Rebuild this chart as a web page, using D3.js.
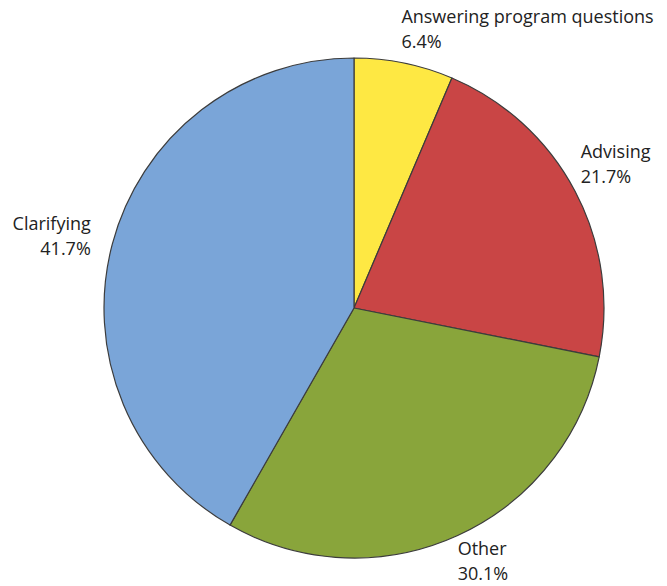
<!DOCTYPE html>
<html>
<head>
<meta charset="utf-8">
<script src="https://cdn.jsdelivr.net/npm/d3@7"></script>
<style>
  html, body { margin: 0; padding: 0; background: #fff; }
  svg text { font-family: "Open Sans", "Noto Sans", sans-serif; fill: #222; }
</style>
</head>
<body>
<svg id="chart" width="667" height="586"></svg>
<script>
// Share of activities, drawn clockwise from 12 o'clock
const categories = ["Answering program questions", "Advising", "Other", "Clarifying"];
const percents = [6.4, 21.7, 30.1, 41.7];
const colors = ["#fee843", "#c94545", "#89a53b", "#7aa5d8"];

const width = 667, height = 586;
const cx = 354, cy = 308, radius = 250;
const fontSize = 18, lineH = 25;

const svg = d3.select("#chart");
const g = svg.append("g").attr("transform", `translate(${cx},${cy})`);

const data = categories.map((c, i) => ({ name: c, value: percents[i], color: colors[i] }));

const pie = d3.pie().value(d => d.value).sort(null);
const arcs = pie(data);
const arc = d3.arc().innerRadius(0).outerRadius(radius);
const labelArc = d3.arc().innerRadius(radius + 12).outerRadius(radius + 12);

g.selectAll("path.slice")
  .data(arcs)
  .enter().append("path")
  .attr("class", "slice")
  .attr("d", arc)
  .attr("fill", d => d.data.color)
  .attr("stroke", "#3c3c3c")
  .attr("stroke-width", 1.2)
  .attr("stroke-linejoin", "round");

// Labels: name on the first line, percentage on the second.
// Upper labels sit above their anchor, lower ones below, side ones centred on it.
g.selectAll("text.label")
  .data(arcs)
  .enter().append("text")
  .attr("class", "label")
  .style("font-size", fontSize + "px")
  .each(function(d) {
    const [x, y] = labelArc.centroid(d);
    const mid = (d.startAngle + d.endAngle) / 2;
    const c = Math.cos(mid);
    const right = Math.sin(mid) >= 0;
    const base = c > 0.35 ? y - 28 : (c < -0.35 ? y + 9 : y - 11);
    const tx = right ? x - 5 : x - 10;
    const t = d3.select(this).attr("text-anchor", right ? "start" : "end");
    t.append("tspan").attr("x", tx).attr("y", base).text(d.data.name);
    t.append("tspan").attr("x", tx).attr("y", base + lineH)
      .text(d3.format(".1f")(d.data.value) + "%");
  });
</script>
</body>
</html>
